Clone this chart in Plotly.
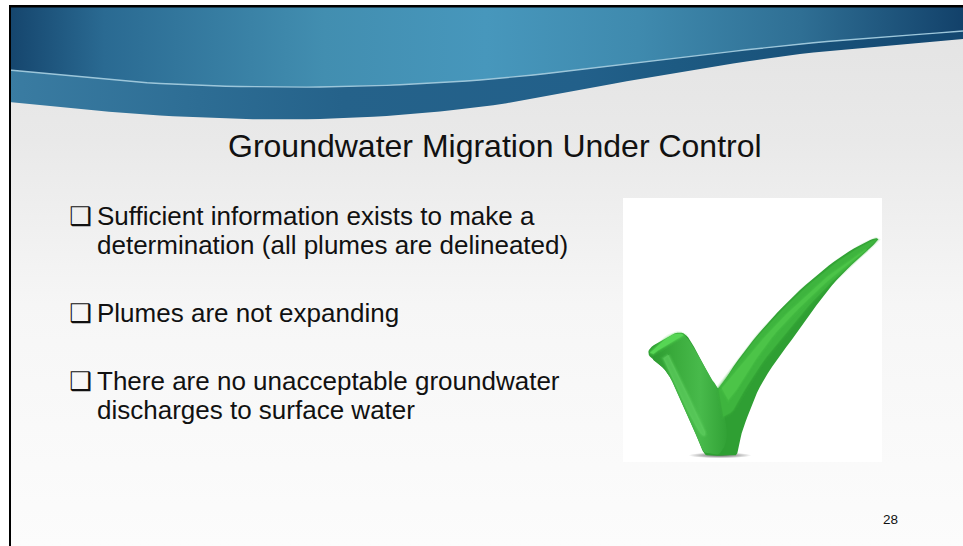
import numpy as np
import plotly.graph_objects as go

TITLE = "Groundwater Migration Under Control"
BULLET_LINES = [
    ("Sufficient information exists to make a", 95, 215.5, True),
    ("determination (all plumes are delineated)", 95, 244.5, False),
    ("Plumes are not expanding", 95, 312.5, True),
    ("There are no unacceptable groundwater", 95, 380.5, True),
    ("discharges to surface water", 95, 409.5, False),
]
PAGE_NUMBER = "28"

LINE_X = [9, 160, 320, 480, 640, 800, 963]
LINE_Y = [70, 83.5, 87, 80, 62.5, 44, 31]
EDGE_X = [9, 160, 320, 480, 640, 800, 963]
EDGE_Y = [102, 115.5, 119, 107, 79, 54, 39]

UPPER_STOPS = [(0, "#15456d"), (0.1, "#2a6a92"), (0.33, "#428eb0"), (0.5, "#4797bc"),
               (0.66, "#3f8aae"), (0.83, "#2f6f94"), (1, "#12416a")]
LOWER_STOPS = [(0, "#3a7ca2"), (0.2, "#2d6d94"), (0.35, "#25628a"), (0.6, "#22608a"),
               (0.7, "#1d5a82"), (1, "#134770")]
BG_STOPS = [(0, "#fcfcfc"), (0.45, "#f6f6f6"), (0.75, "#e9e9e9"), (1, "#e3e3e3")]


def smooth(xs, ys, n=12):
    """Catmull-Rom densifying so that polygon edges read as curves."""
    p = np.column_stack([xs, ys]).astype(float)
    p = np.vstack([2 * p[0] - p[1], p, 2 * p[-1] - p[-2]])
    out = []
    for i in range(1, len(p) - 2):
        for t in np.linspace(0, 1, n, endpoint=False):
            a, b, c, d = p[i - 1], p[i], p[i + 1], p[i + 2]
            out.append(0.5 * (2 * b + (c - a) * t + (2 * a - 5 * b + 4 * c - d) * t ** 2
                              + (3 * b - a - 3 * c + d) * t ** 3))
    out.append(p[-2])
    out = np.array(out)
    return out[:, 0], out[:, 1]


def cx(v):
    return [610 + a / 3 for a in v]


def cy(v):
    return [190 + a / 3 for a in v]


CHECK_OUT_X = [805, 790, 740, 680, 620, 560, 500, 450, 420, 395, 382, 360, 330, 300, 282, 265, 230, 195, 165, 130, 115,
               125, 160, 195, 220, 240, 265, 300, 325, 370, 430, 500, 570, 640, 700, 760, 795, 805]
CHECK_OUT_Y = [148, 165, 210, 270, 345, 430, 510, 590, 660, 730, 790, 796, 797, 796, 790, 750, 670, 590, 540, 510, 490,
               470, 450, 430, 430, 450, 495, 560, 595, 530, 450, 370, 300, 240, 195, 160, 145, 148]
CHECK_LEFT_X = [125, 160, 195, 220, 240, 265, 300, 325, 340, 350, 330, 300, 282, 265, 230, 195, 165, 130]
CHECK_LEFT_Y = [480, 455, 435, 435, 455, 497, 560, 597, 650, 740, 790, 790, 785, 750, 670, 590, 540, 510]
CHECK_FACE_X = [325, 370, 430, 500, 570, 640, 700, 760, 800, 740, 680, 610, 540, 470, 410, 370, 340]
CHECK_FACE_Y = [595, 535, 455, 378, 308, 248, 203, 166, 150, 205, 262, 332, 415, 500, 590, 660, 680]
CHECK_GLOSS_X = [335, 380, 440, 510, 580, 650, 715, 770, 715, 640, 570, 500, 440, 390, 355]
CHECK_GLOSS_Y = [595, 540, 468, 392, 325, 262, 215, 178, 222, 285, 352, 425, 505, 585, 630]
CHECK_STREAK_X = [175, 210, 250, 285, 272, 232, 192, 160]
CHECK_STREAK_Y = [495, 565, 650, 725, 730, 660, 572, 505]
CHECK_RIM_X = [120, 160, 195, 220, 205, 160, 130]
CHECK_RIM_Y = [488, 452, 432, 434, 445, 470, 492]

fig = go.Figure()


def poly(xs, ys, color=None, stops=None, kind="horizontal", edge=None, edge_width=0):
    kw = dict(x=list(xs) + [xs[0]], y=list(ys) + [ys[0]], mode="lines",
              line=dict(width=edge_width, color=edge),
              fill="toself", hoverinfo="skip", showlegend=False)
    if stops:
        kw["fillgradient"] = dict(type=kind, colorscale=stops)
    else:
        kw["fillcolor"] = color
    fig.add_trace(go.Scatter(**kw))


def soft(xs, ys, rgb, alpha=1.0):
    """A filled polygon whose edge fades out over a few pixels."""
    for w, a in [(5, 0.12), (3, 0.18), (1.5, 0.3)]:
        fig.add_trace(go.Scatter(x=list(xs) + [xs[0]], y=list(ys) + [ys[0]], mode="lines",
                                 line=dict(width=w, color=f"rgba({rgb},{a})"),
                                 hoverinfo="skip", showlegend=False))
    poly(xs, ys, color=f"rgba({rgb},{alpha})")


# slide background
poly([9, 963, 963, 9], [7, 7, 546, 546], stops=BG_STOPS, kind="vertical")

# header swoosh
lx, ly = smooth(LINE_X, LINE_Y)
ex, ey = smooth(EDGE_X, EDGE_Y)
poly([9] + list(lx) + [963], [7] + list(ly) + [7], stops=UPPER_STOPS)
poly(list(lx) + list(ex[::-1]), list(ly) + list(ey[::-1]), stops=LOWER_STOPS)
fig.add_trace(go.Scatter(x=lx, y=ly, mode="lines", line=dict(color="#9cc6da", width=1.4),
                         hoverinfo="skip", showlegend=False))

# picture of a check mark
poly([623, 882, 882, 623], [198, 198, 462, 462], color="#ffffff")
th = np.linspace(0, 2 * np.pi, 40, endpoint=False)
poly(610 + (330 + 95 * np.cos(th)) / 3, 190 + (796 + 9 * np.sin(th)) / 3,
     stops=[(0, "#666666"), (0.6, "#bbbbbb"), (1, "#ffffff")], kind="radial")
poly(*smooth(cx(CHECK_OUT_X), cy(CHECK_OUT_Y), 4), color="#2f9f33")
poly(*smooth(cx(CHECK_LEFT_X), cy(CHECK_LEFT_Y), 4),
     stops=[(0, "#2c9a30"), (0.3, "#3aab3c"), (0.65, "#48ba4b"), (1, "#32a236")])
soft(*smooth(cx(CHECK_FACE_X), cy(CHECK_FACE_Y), 4), "62,180,62")
soft(*smooth(cx(CHECK_GLOSS_X), cy(CHECK_GLOSS_Y), 4), "76,196,72")
soft(*smooth(cx(CHECK_STREAK_X), cy(CHECK_STREAK_Y), 4), "92,204,94", 0.7)
soft(*smooth(cx(CHECK_RIM_X), cy(CHECK_RIM_Y), 4), "86,214,84")

# black edge lines of the slide
poly([9, 963, 963, 9], [5, 5, 7.5, 7.5], color="#000000")
poly([9, 11, 11, 9], [5, 5, 546, 546], color="#000000")

ann = [dict(text=TITLE, x=494.5, y=145.5, font=dict(size=32), xanchor="center")]
for text, x, y, has_box in BULLET_LINES:
    ann.append(dict(text=text, x=x, y=y, font=dict(size=26), xanchor="left"))
    if has_box:
        ann.append(dict(text="\u2751", x=66.5, y=y, font=dict(size=25.6, family="DejaVu Sans"), xanchor="left"))
ann.append(dict(text=PAGE_NUMBER, x=890, y=519, font=dict(size=13.5), xanchor="center"))
for a in ann:
    a.update(xref="x", yref="y", yanchor="middle", showarrow=False, xshift=0)
    a["font"].setdefault("family", "Liberation Sans")
    a["font"]["color"] = "#111111"

fig.update_layout(
    width=963, height=546, autosize=False, margin=dict(l=0, r=0, t=0, b=0, pad=0),
    paper_bgcolor="#ffffff", plot_bgcolor="#ffffff", showlegend=False, annotations=ann,
    xaxis=dict(range=[0, 963], visible=False, fixedrange=True),
    yaxis=dict(range=[546, 0], visible=False, fixedrange=True),
)
fig.write_html("out.html", config=dict(displayModeBar=False),
               post_script="document.body.style.margin='0';document.body.style.overflow='hidden';")
